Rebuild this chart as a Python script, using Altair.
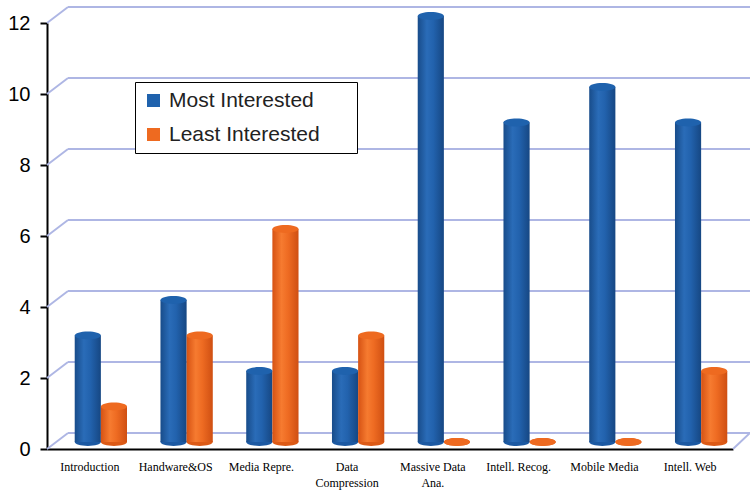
import altair as alt
import pandas as pd

# Course topics and how many students rated each one most / least interesting
categories = [
    "Introduction",
    "Handware&OS",
    "Media Repre.",
    "Data Compression",
    "Massive Data Ana.",
    "Intell. Recog.",
    "Mobile Media",
    "Intell. Web",
]
most_interested = [3, 4, 2, 2, 12, 9, 10, 9]
least_interested = [1, 3, 6, 3, 0, 0, 0, 2]
series_names = ["Most Interested", "Least Interested"]
y_ticks = [0, 2, 4, 6, 8, 10, 12]

rows = []
for cat, m, l in zip(categories, most_interested, least_interested):
    rows.append({"category": cat, "series": series_names[0], "value": m})
    rows.append({"category": cat, "series": series_names[1], "value": l})
df = pd.DataFrame(rows)
grid_df = pd.DataFrame({"tick": y_ticks})

W, H = 686, 426
DEPTH_X, DEPTH_Y = 21, -16      # offset of the back wall
MID_X, MID_Y = 11, -7           # bars stand halfway into the box
BAND = (W / len(categories)) * 0.61
BAR_W = BAND / 2

blue_grad = alt.Gradient(
    gradient="linear", x1=0, x2=1, y1=0, y2=0,
    stops=[
        alt.GradientStop(color="#184c8a", offset=0),
        alt.GradientStop(color="#2a6cb8", offset=0.35),
        alt.GradientStop(color="#2262ad", offset=0.6),
        alt.GradientStop(color="#164783", offset=1),
    ],
)
orange_grad = alt.Gradient(
    gradient="linear", x1=0, x2=1, y1=0, y2=0,
    stops=[
        alt.GradientStop(color="#d65213", offset=0),
        alt.GradientStop(color="#f67b30", offset=0.35),
        alt.GradientStop(color="#ee6b22", offset=0.6),
        alt.GradientStop(color="#cf4f12", offset=1),
    ],
)

y_scale = alt.Scale(domain=[0, 12], nice=False, zero=True)
x_enc = alt.X(
    "category:N",
    sort=categories,
    scale=alt.Scale(paddingInner=0.39, paddingOuter=0.195),
    axis=alt.Axis(
        title=None,
        labelAngle=0,
        ticks=False,
        domainColor="black",
        domainWidth=2,
        labelFont="Liberation Serif",
        labelFontSize=12,
        labelColor="black",
        labelPadding=12,
        labelLineHeight=16,
        labelExpr=(
            "datum.label == 'Data Compression' ? ['Data', 'Compression'] : "
            "datum.label == 'Massive Data Ana.' ? ['Massive Data', 'Ana.'] : datum.label"
        ),
    ),
)
# the pair of cylinders is pushed back into the box by MID_X pixels
xoff_enc = alt.XOffset(
    "series:N",
    sort=series_names,
    scale=alt.Scale(paddingInner=0, paddingOuter=0, range=[MID_X, MID_X + BAND]),
)
y_enc = alt.Y(
    "value:Q",
    scale=y_scale,
    axis=alt.Axis(
        title=None,
        values=y_ticks,
        grid=False,
        domainColor="black",
        domainWidth=2,
        tickColor="black",
        tickWidth=2,
        tickSize=7,
        labelFont="Liberation Sans",
        labelFontSize=20,
        labelColor="black",
        labelPadding=10,
    ),
)

grid_color = "#aeb6e4"

# Back-wall gridlines and the slanted side-wall segments joining them to the axis
back_grid = alt.Chart(grid_df).mark_rule(color=grid_color, strokeWidth=2, yOffset=DEPTH_Y).encode(
    y=alt.Y("tick:Q", scale=y_scale),
    x=alt.value(DEPTH_X),
    x2=alt.value(W + 17),
)
side_grid = alt.Chart(grid_df).mark_rule(color=grid_color, strokeWidth=2, y2Offset=DEPTH_Y).encode(
    y=alt.Y("tick:Q", scale=y_scale),
    y2="tick:Q",
    x=alt.value(0),
    x2=alt.value(DEPTH_X),
)
floor_edge = alt.Chart(grid_df[grid_df.tick == 0]).mark_rule(
    color=grid_color, strokeWidth=2, y2Offset=DEPTH_Y
).encode(
    y=alt.Y("tick:Q", scale=y_scale),
    y2="tick:Q",
    x=alt.value(W),
    x2=alt.value(W + 17),
)

ellipse = "M-1,0A1,0.3,0,1,1,1,0A1,0.3,0,1,1,-1,0Z"
cap_colors = alt.Scale(domain=series_names, range=["#1c59a2", "#dc5a16"])

base_caps = alt.Chart(df).mark_point(
    shape=ellipse, filled=True, opacity=1, size=BAR_W ** 2, yOffset=MID_Y, strokeWidth=0
).encode(
    x=x_enc,
    xOffset=xoff_enc,
    y=alt.Y("zero:Q", scale=y_scale),
    color=alt.Color("series:N", scale=cap_colors, legend=None),
).transform_calculate(zero="0")


def cylinders(name, grad):
    return alt.Chart(df[df.series == name]).mark_bar(
        color=grad, yOffset=MID_Y, y2Offset=MID_Y
    ).encode(x=x_enc, xOffset=xoff_enc, y=y_enc)


bars_most = cylinders(series_names[0], blue_grad)
bars_least = cylinders(series_names[1], orange_grad)

top_caps = alt.Chart(df).mark_point(
    shape=ellipse, filled=True, opacity=1, size=BAR_W ** 2, yOffset=MID_Y, strokeWidth=0
).encode(
    x=x_enc,
    xOffset=xoff_enc,
    y=alt.Y("value:Q", scale=y_scale),
    color=alt.Color(
        "series:N",
        scale=alt.Scale(domain=series_names, range=["#1f62ad", "#ee6a20"]),
        legend=alt.Legend(
            # a transparent spacer title on the right widens the framed box
            title="MM",
            titleOrient="right",
            titleOpacity=0,
            titleFontSize=14,
            titlePadding=5,
            orient="none",
            legendX=88,
            legendY=59,
            direction="vertical",
            symbolType="square",
            symbolSize=170,
            symbolStrokeWidth=0,
            labelFont="Liberation Sans",
            labelFontSize=21,
            labelColor="#222222",
            labelOffset=5,
            rowPadding=12,
            padding=8,
            strokeColor="black",
            fillColor="white",
        ),
    ),
)

chart = alt.layer(
    back_grid, side_grid, floor_edge, base_caps, bars_most, bars_least, top_caps
).resolve_scale(color="independent").properties(
    width=W,
    height=H,
    padding={"left": 47, "top": 23, "right": 17, "bottom": 42},
    autosize=alt.AutoSizeParams(type="none"),
    background="white",
).configure_view(stroke=None)

chart.save("out.html", embed_options={"renderer": "svg", "actions": False})
